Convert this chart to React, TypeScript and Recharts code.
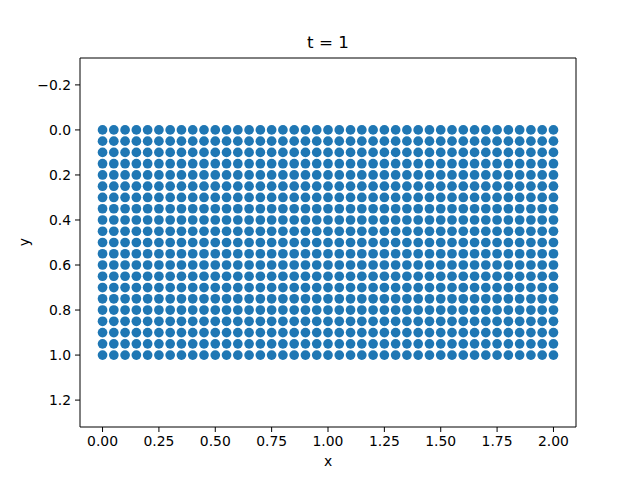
import { ScatterChart, Scatter, XAxis, YAxis, ReferenceArea } from "recharts";

const X_VALUES = [
  0.0, 0.05, 0.1, 0.15, 0.2, 0.25, 0.3, 0.35, 0.4, 0.45,
  0.5, 0.55, 0.6, 0.65, 0.7, 0.75, 0.8, 0.85, 0.9, 0.95,
  1.0, 1.05, 1.1, 1.15, 1.2, 1.25, 1.3, 1.35, 1.4, 1.45,
  1.5, 1.55, 1.6, 1.65, 1.7, 1.75, 1.8, 1.85, 1.9, 1.95, 2.0,
];
const Y_VALUES = [
  0.0, 0.05, 0.1, 0.15, 0.2, 0.25, 0.3, 0.35, 0.4, 0.45,
  0.5, 0.55, 0.6, 0.65, 0.7, 0.75, 0.8, 0.85, 0.9, 0.95, 1.0,
];
const X_TICKS = [0, 0.25, 0.5, 0.75, 1.0, 1.25, 1.5, 1.75, 2.0];
const Y_TICKS = [-0.2, 0, 0.2, 0.4, 0.6, 0.8, 1.0, 1.2];
const X_DOMAIN = [-0.1, 2.1];
const Y_DOMAIN = [-0.3195, 1.3195];

const points = Y_VALUES.flatMap((y) => X_VALUES.map((x) => ({ x, y })));

const FONT = "DejaVu Sans, sans-serif";
const TICK = { fill: "#000", fontSize: 13.9, fontFamily: FONT } as const;
const BLUE = "#1f77b4";

const fmtX = (v: number) => v.toFixed(2);
const fmtY = (v: number) => v.toFixed(1).replace("-", "\u2212");

const Dot = (p: any) => <circle cx={p.cx} cy={p.cy} r={4.85} fill={BLUE} />;

export default function App() {
  return (
    <div style={{ position: "absolute", left: 0, top: 0, width: 640, height: 480, background: "#fff", fontFamily: FONT }}>
      <ScatterChart width={640} height={480} margin={{ top: 58, right: 64, left: 30, bottom: 23 }}>
        <XAxis type="number" dataKey="x" domain={X_DOMAIN} ticks={X_TICKS} tickFormatter={fmtX}
               allowDataOverflow height={30} tick={TICK} tickSize={5} tickMargin={4}
               stroke="#000" axisLine={false} tickLine={{ stroke: "#000" }} />
        <YAxis type="number" dataKey="y" domain={Y_DOMAIN} ticks={Y_TICKS} tickFormatter={fmtY}
               allowDataOverflow reversed width={50} tick={TICK} tickSize={5} tickMargin={4}
               stroke="#000" axisLine={false} tickLine={{ stroke: "#000" }} />
        <Scatter data={points} fill={BLUE} shape={Dot} isAnimationActive={false} />
        <ReferenceArea x1={X_DOMAIN[0]} x2={X_DOMAIN[1]} y1={Y_DOMAIN[0]} y2={Y_DOMAIN[1]}
                       fill="none" fillOpacity={0} stroke="#000" strokeWidth={1} />
      </ScatterChart>
      <div style={{ position: "absolute", left: 80, width: 496, top: 32, textAlign: "center", fontSize: 16.7, lineHeight: "20px" }}>
        t = 1
      </div>
      <div style={{ position: "absolute", left: 80, width: 496, top: 452, textAlign: "center", fontSize: 13.9, lineHeight: "18px" }}>
        x
      </div>
      <div style={{ position: "absolute", left: 15, top: 233, width: 18, height: 18, textAlign: "center", fontSize: 13.9, lineHeight: "18px", transform: "rotate(-90deg)" }}>
        y
      </div>
    </div>
  );
}
